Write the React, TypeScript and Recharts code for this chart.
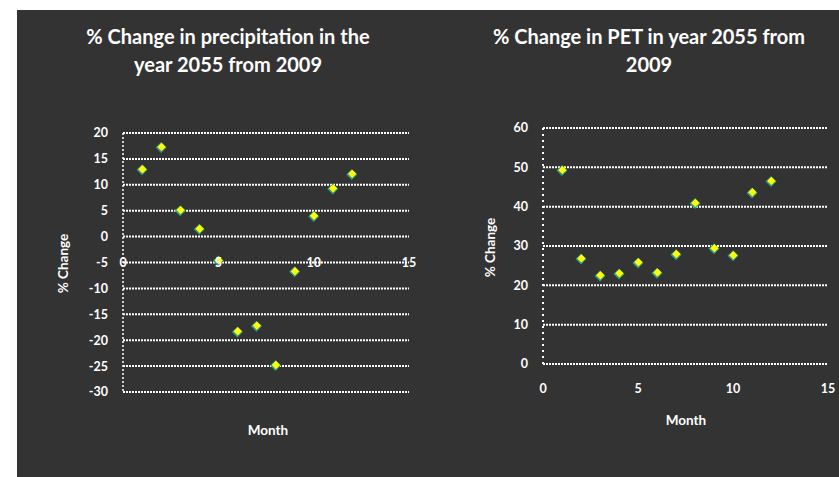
import React from 'react';
import { ScatterChart, Scatter, XAxis, YAxis, CartesianGrid, ReferenceDot } from 'recharts';

const months = [1, 2, 3, 4, 5, 6, 7, 8, 9, 10, 11, 12];
const precipChange = [12.9, 17.2, 5.0, 1.4, -4.7, -18.4, -17.3, -24.9, -6.8, 3.9, 9.2, 12.0];
const petChange = [49.2, 26.7, 22.4, 22.9, 25.7, 23.1, 27.8, 40.8, 29.3, 27.5, 43.5, 46.4];
const monthTicks = [0, 5, 10, 15];
const precipTicks = [-30, -25, -20, -15, -10, -5, 0, 5, 10, 15, 20];
const petTicks = [0, 10, 20, 30, 40, 50, 60];
const leftTitle = ['% Change in precipitation in the', 'year 2055 from 2009'];
const rightTitle = ['% Change in PET in year 2055 from', '2009'];

const precipData = months.map((m, i) => ({ month: m, value: precipChange[i] }));
const petData = months.map((m, i) => ({ month: m, value: petChange[i] }));

const FONT = 'Lato, "Open Sans", sans-serif';

const Diamond = (props: any) => {
  const { cx, cy } = props;
  if (cx == null || cy == null) return null;
  const r = 5.5;
  const r2 = 4.2;
  return (
    <g>
      <polygon
        points={`${cx},${cy - r} ${cx + r},${cy} ${cx},${cy + r} ${cx - r},${cy}`}
        fill="#2f9c86"
      />
      <polygon
        points={`${cx + 0.4},${cy - r2 - 0.6} ${cx + r2 + 0.4},${cy - 0.6} ${cx + 0.4},${cy + r2 - 0.6} ${cx - r2 + 0.4},${cy - 0.6}`}
        fill="#ffff00"
      />
    </g>
  );
};

const tickStyle = { fill: '#ffffff', fontSize: 12.5, fontWeight: 700, fontFamily: FONT };

const absText = (
  text: string,
  cx: number,
  cy: number,
  size: number,
  rotate = false
) => (
  <div
    style={{
      position: 'absolute',
      left: cx - 150,
      top: cy - size,
      width: 300,
      height: size * 2,
      lineHeight: `${size * 2}px`,
      textAlign: 'center',
      color: '#ffffff',
      fontFamily: FONT,
      fontWeight: 700,
      fontSize: size,
      transform: rotate ? 'rotate(-90deg)' : undefined,
      whiteSpace: 'nowrap',
    }}
  >
    {text}
  </div>
);

const titleBlock = (lines: string[], cx: number) => (
  <div
    style={{
      position: 'absolute',
      left: cx - 200,
      top: 22,
      width: 400,
      textAlign: 'center',
      color: '#fff',
      fontFamily: FONT,
      fontWeight: 700,
      fontSize: 20,
      lineHeight: '28px',
      whiteSpace: 'nowrap',
    }}
  >
    {lines.map((l, i) => (
      <div key={i}>{l}</div>
    ))}
  </div>
);

export default function App() {
  return (
    <div style={{ position: 'absolute', left: 0, top: 0, width: 839, height: 477, background: '#ffffff', overflow: 'hidden' }}>
      <div style={{ position: 'absolute', left: 17, top: 10, width: 822, height: 467, background: '#333333' }} />

      {titleBlock(leftTitle, 228)}
      {titleBlock(rightTitle, 649)}

      {/* Left chart */}
      <div style={{ position: 'absolute', left: 0, top: 0 }}>
        <ScatterChart width={420} height={477} margin={{ top: 133, right: 11, bottom: 85, left: 83 }}>
          <CartesianGrid vertical={false} stroke="#ffffff" strokeDasharray="2 1" strokeWidth={2} />
          <XAxis type="number" dataKey="month" domain={[0, 15]} ticks={monthTicks} hide />
          <YAxis
            type="number"
            dataKey="value"
            domain={[-30, 20]}
            ticks={precipTicks}
            width={40}
            tickLine={false}
            tickSize={8}
            tickMargin={7}
            axisLine={{ stroke: '#ffffff', strokeDasharray: '2 2', strokeWidth: 1.5 }}
            tick={tickStyle}
          />
          {monthTicks.map((t) => (
            <ReferenceDot
              key={t}
              x={t}
              y={-5}
              r={0}
              stroke="none"
              ifOverflow="visible"
              label={{ value: String(t), position: 'center', ...tickStyle }}
            />
          ))}
          <Scatter data={precipData} shape={<Diamond />} isAnimationActive={false} />
        </ScatterChart>
      </div>

      {/* Right chart */}
      <div style={{ position: 'absolute', left: 420, top: 0 }}>
        <ScatterChart width={419} height={477} margin={{ top: 128, right: 11, bottom: 77, left: 83 }}>
          <CartesianGrid vertical={false} stroke="#ffffff" strokeDasharray="2 1" strokeWidth={2} />
          <XAxis
            type="number"
            dataKey="month"
            domain={[0, 15]}
            ticks={monthTicks}
            height={36}
            axisLine={false}
            tickLine={false}
            tickSize={6}
            tickMargin={14}
            tick={tickStyle}
          />
          <YAxis
            type="number"
            dataKey="value"
            domain={[0, 60]}
            ticks={petTicks}
            width={40}
            tickLine={false}
            tickSize={8}
            tickMargin={7}
            axisLine={{ stroke: '#ffffff', strokeDasharray: '2 4', strokeWidth: 2 }}
            tick={tickStyle}
          />
          <Scatter data={petData} shape={<Diamond />} isAnimationActive={false} />
        </ScatterChart>
      </div>

      {absText('% Change', 63, 263, 13.5, true)}
      {absText('% Change', 490, 247, 13.5, true)}
      {absText('Month', 268, 430, 13.5)}
      {absText('Month', 686, 420, 13.5)}
    </div>
  );
}
